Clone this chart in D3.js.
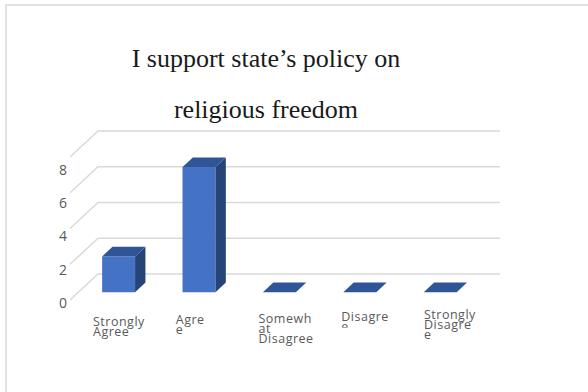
<!DOCTYPE html>
<html>
<head>
<meta charset="utf-8">
<script src="https://cdn.jsdelivr.net/npm/d3@7"></script>
<style>
  html, body { margin: 0; padding: 0; background: #fff; }
  svg { display: block; }
</style>
</head>
<body>
<svg id="chart" width="588" height="392"></svg>
<script>
// Survey responses
const categories = ["Strongly Agree", "Agree", "Somewhat Disagree", "Disagree", "Strongly Disagree"];
const values = [2, 7, 0, 0, 0];
// Wrapped category text as it appears under each column
const categoryLines = [
  ["Strongly", "Agree"],
  ["Agre", "e"],
  ["Somewh", "at", "Disagree"],
  ["Disagre", "e"],
  ["Strongly", "Disagre", "e"]
];
const yTicks = [0, 2, 4, 6, 8];
const titleLines = ["I support state\u2019s policy on", "religious freedom"];

const svg = d3.select("#chart");

// Chart area border
svg.append("rect")
  .attr("x", 6).attr("y", 5).attr("width", 700).attr("height", 500)
  .attr("fill", "none").attr("stroke", "#d9d9d9").attr("stroke-width", 1.5);

// Title
svg.append("g").selectAll("text").data(titleLines).join("text")
  .attr("x", 266)
  .attr("y", (d, i) => 67 + i * 51)
  .attr("text-anchor", "middle")
  .attr("font-family", "'Liberation Serif', 'Times New Roman', serif")
  .attr("font-size", 26)
  .attr("fill", "#1a1a1a")
  .text(d => d);

// Oblique 3D projection: z = 0 at the floor's front edge, z = 1 at the back wall
const DEPTH_X = 28, DEPTH_Y = 26;
const x = d3.scaleBand().domain(categories).range([70, 472]).paddingInner(0.59).paddingOuter(0.295);
const y = d3.scaleLinear().domain([0, 8]).range([300, 157]);
const proj = (px, v, z) => [px + z * DEPTH_X, y(v) - z * DEPTH_Y];

// Gridlines: back wall lines plus the diagonal on the side wall
const grid = svg.append("g").attr("stroke", "#d9d9d9").attr("stroke-width", 1.5).attr("fill", "none");
const [xL, xR] = x.range();
yTicks.forEach(v => {
  const a = proj(xL, v, 0), b = proj(xL, v, 1), c = proj(xR, v, 1);
  grid.append("path").attr("d", d3.line()([a, b, c]));
});

// Value axis labels
const yLabel = d3.scaleLinear().domain([0, 8]).range([303, 170]);
const yAxis = svg.append("g")
  .attr("transform", "translate(67,0)")
  .call(d3.axisLeft(yLabel).tickValues(yTicks).tickSize(0).tickPadding(0).tickFormat(d3.format("d")));
yAxis.select(".domain").remove();
yAxis.selectAll("text")
  .attr("font-family", "'Open Sans', sans-serif")
  .attr("font-size", 14)
  .attr("fill", "#595959");

// Columns
const Z0 = 0.3, Z1 = 0.67;
const bars = svg.append("g");
categories.forEach((cat, i) => {
  const v = values[i];
  const x0 = x(cat), x1 = x(cat) + x.bandwidth();
  const fBL = proj(x0, 0, Z0), fBR = proj(x1, 0, Z0), fTL = proj(x0, v, Z0), fTR = proj(x1, v, Z0);
  const bBR = proj(x1, 0, Z1), bTL = proj(x0, v, Z1), bTR = proj(x1, v, Z1);
  const poly = pts => d3.line()(pts) + "Z";
  if (v > 0) {
    bars.append("path").attr("d", poly([fBL, fBR, fTR, fTL])).attr("fill", "#4472c4");
    bars.append("path").attr("d", poly([fBR, bBR, bTR, fTR])).attr("fill", "#264478");
  }
  bars.append("path").attr("d", poly([fTL, fTR, bTR, bTL])).attr("fill", "#2f5597");
});

// Category labels
const xLabel = d3.scalePoint().domain(categories).range([93, 424]);
const clip = svg.append("defs").append("clipPath").attr("id", "clip-disagree");
clip.append("rect").attr("x", 300).attr("y", 300).attr("width", 100).attr("height", 27.5);

const catG = svg.append("g")
  .attr("font-family", "'Open Sans', sans-serif")
  .attr("font-size", 12.5)
  .attr("letter-spacing", 0.5)
  .attr("fill", "#595959");
categories.forEach((cat, i) => {
  const t = catG.append("text")
    .attr("x", xLabel(cat))
    .attr("y", 326 - 1.7 * i);
  if (cat === "Disagree") t.attr("clip-path", "url(#clip-disagree)");
  t.selectAll("tspan").data(categoryLines[i]).join("tspan")
    .attr("x", xLabel(cat))
    .attr("dy", (d, j) => j === 0 ? 0 : 10)
    .text(d => d);
});
</script>
</body>
</html>
